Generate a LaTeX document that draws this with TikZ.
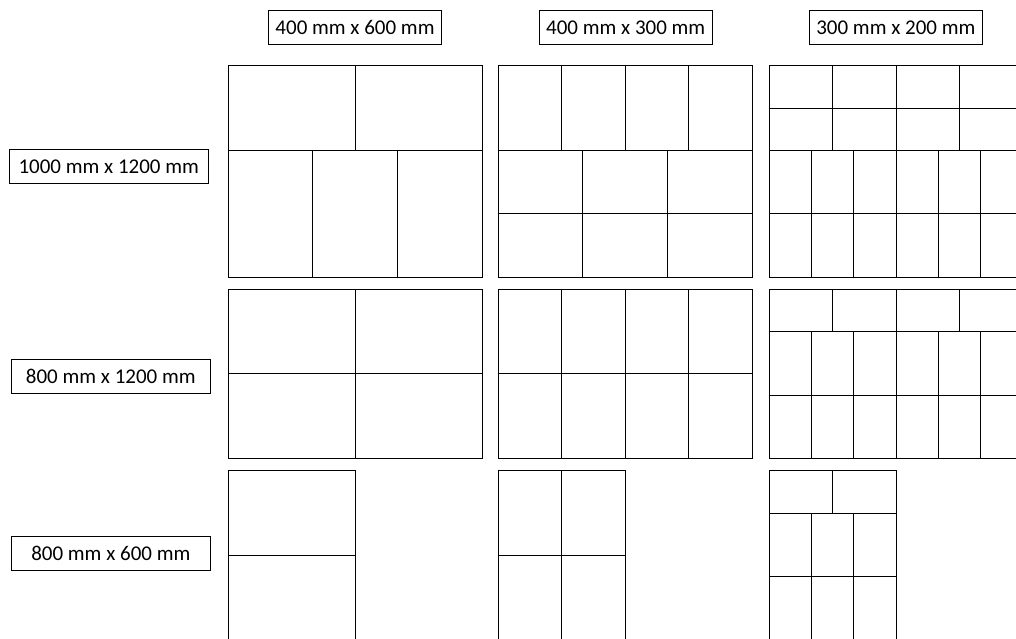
\documentclass[tikz,border=0pt]{standalone}
\usepackage{fontspec}
\setmainfont{Carlito}
\begin{document}
\begin{tikzpicture}[x=1pt,y=-1pt,
  grid/.style={draw=black,line width=1pt},
  lbl/.style={draw=black,line width=0.9pt,inner sep=0pt,minimum height=34pt,font=\fontsize{21}{24}\selectfont},
  mm/.style={x=0.211667pt,y=-0.211667pt}]
\useasboundingbox (0,0) rectangle (1016,639);
\clip (0,0) rectangle (1016,639);

% headers
\node[lbl,minimum width=173.4pt] (h1) at (355,27.3) {400 mm x 600 mm};
\node[lbl,minimum width=173.4pt] (h2) at (625.7,27.3) {400 mm x 300 mm};
\node[lbl,minimum width=173pt] (h3) at (895.8,27.3) {300 mm x 200 mm};
% row labels
\node[lbl,minimum width=199.3pt] (r1) at (108.7,166.9) {1000 mm x 1200 mm};
\node[lbl,minimum width=199pt] (r2) at (110.8,376) {800 mm x 1200 mm};
\node[lbl,minimum width=199pt] (r3) at (110.8,553.2) {800 mm x 600 mm};

% ---- Column 1 : 400 x 600 ----
\begin{scope}[shift={(228pt,-65.7pt)},mm]
  \draw[grid] (0,0) rectangle (1200,1000);
  \draw[grid] (0,400) -- (1200,400);
  \draw[grid] (600,0) -- (600,400);
  \draw[grid] (400,400) -- (400,1000) (800,400) -- (800,1000);
\end{scope}
\begin{scope}[shift={(228pt,-289.3pt)},mm]
  \draw[grid] (0,0) rectangle (1200,800);
  \draw[grid] (0,400) -- (1200,400);
  \draw[grid] (600,0) -- (600,800);
\end{scope}
\begin{scope}[shift={(228pt,-470.7pt)},mm]
  \draw[grid] (0,0) rectangle (600,800);
  \draw[grid] (0,400) -- (600,400);
\end{scope}

% ---- Column 2 : 400 x 300 ----
\begin{scope}[shift={(498pt,-65.7pt)},mm]
  \draw[grid] (0,0) rectangle (1200,1000);
  \draw[grid] (0,400) -- (1200,400) (0,700) -- (1200,700);
  \foreach \v in {300,600,900} \draw[grid] (\v,0) -- (\v,400);
  \foreach \v in {400,800} \draw[grid] (\v,400) -- (\v,1000);
\end{scope}
\begin{scope}[shift={(498pt,-289.3pt)},mm]
  \draw[grid] (0,0) rectangle (1200,800);
  \draw[grid] (0,400) -- (1200,400);
  \foreach \v in {300,600,900} \draw[grid] (\v,0) -- (\v,800);
\end{scope}
\begin{scope}[shift={(498pt,-470.7pt)},mm]
  \draw[grid] (0,0) rectangle (600,800);
  \draw[grid] (0,400) -- (600,400);
  \draw[grid] (300,0) -- (300,800);
\end{scope}

% ---- Column 3 : 300 x 200 ----
\begin{scope}[shift={(769pt,-65.7pt)},mm]
  \draw[grid] (0,0) rectangle (1200,1000);
  \draw[grid] (0,200) -- (1200,200) (0,400) -- (1200,400) (0,700) -- (1200,700);
  \foreach \v in {300,600,900} \draw[grid] (\v,0) -- (\v,400);
  \foreach \v in {200,400,600,800,1000} \draw[grid] (\v,400) -- (\v,1000);
\end{scope}
\begin{scope}[shift={(769pt,-289.3pt)},mm]
  \draw[grid] (0,0) rectangle (1200,800);
  \draw[grid] (0,200) -- (1200,200) (0,500) -- (1200,500);
  \foreach \v in {300,600,900} \draw[grid] (\v,0) -- (\v,200);
  \foreach \v in {200,400,600,800,1000} \draw[grid] (\v,200) -- (\v,800);
\end{scope}
\begin{scope}[shift={(769pt,-470.7pt)},mm]
  \draw[grid] (0,0) rectangle (600,800);
  \draw[grid] (0,200) -- (600,200) (0,500) -- (600,500);
  \draw[grid] (300,0) -- (300,200);
  \foreach \v in {200,400} \draw[grid] (\v,200) -- (\v,800);
\end{scope}
\end{tikzpicture}
\end{document}
